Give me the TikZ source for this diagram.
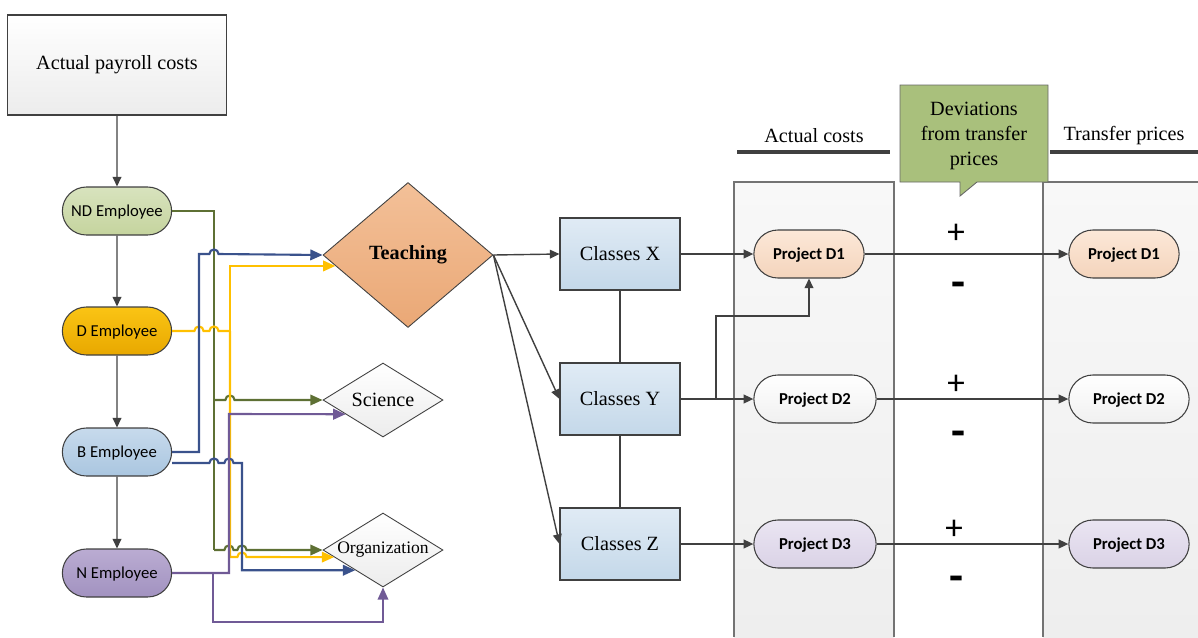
\documentclass[tikz,border=0pt]{standalone}
\usepackage{fontspec}
\setmainfont{Liberation Serif}
\newfontfamily\calibri{Carlito}
\usepackage{tikz}
\usetikzlibrary{arrows.meta, calc, shapes.geometric, shapes.misc}

\definecolor{linegray}{RGB}{64,64,64}
\definecolor{wiregreen}{RGB}{94,112,52}
\definecolor{wireblue}{RGB}{58,82,140}
\definecolor{wireyellow}{RGB}{255,192,0}
\definecolor{wirepurple}{RGB}{112,90,150}
\definecolor{calloutgreen}{RGB}{169,192,124}

\tikzset{
  serif/.style={font=\fontsize{11.5}{14.2}\selectfont},
  pill/.style={rounded rectangle, draw=linegray, line width=0.6pt, minimum height=0.96cm,
    text depth=0pt, font=\calibri\fontsize{9.5}{11}\selectfont},
  proj/.style={pill, font=\calibri\bfseries\fontsize{9.5}{11}\selectfont},
  classbox/.style={rectangle, draw=linegray, line width=0.6pt, minimum width=2.4cm,
    minimum height=1.44cm, top color={rgb,255:red,224;green,235;blue,245},
    bottom color={rgb,255:red,196;green,216;blue,233}, serif},
  choice/.style={diamond, draw=linegray, line width=0.5pt, inner sep=0pt, aspect=1.7,
    minimum width=2.4cm, minimum height=1.48cm, top color=white,
    bottom color={rgb,255:red,236;green,236;blue,236}, serif},
  arr/.style={draw=linegray, line width=0.8pt, ->},
  wire/.style={line width=1.2pt, >={Triangle[length=7pt,width=6pt]}},
  sign/.style={font=\calibri\fontsize{20}{20}\selectfont},
  minussign/.style={font=\calibri\bfseries\fontsize{26}{26}\selectfont},
}

\begin{document}
\begin{tikzpicture}[x=0.02cm, y=-0.02cm, >={Triangle[length=5.5pt,width=5pt]}]
\useasboundingbox (0,0) rectangle (1198,637);

% columns on the right
\shade[top color={rgb,255:red,248;green,248;blue,248}, bottom color={rgb,255:red,238;green,238;blue,238}]
	(734,182) rectangle (894,637);
\shade[top color={rgb,255:red,248;green,248;blue,248}, bottom color={rgb,255:red,238;green,238;blue,238}]
	(1043,182) rectangle (1198,637);
\draw[gray!90!black, line width=0.6pt] (734,637) |- (894,182) -- (894,637);
\draw[gray!90!black, line width=0.6pt] (1198,182) -| (1043,637);

\draw[linegray, line width=2.8pt] (737,152) -- (890,152);
\draw[linegray, line width=2.8pt] (1050,152) -- (1198,152);
\node[serif] (hact) at (814,136) {Actual costs};
\node[serif] (htra) at (1124,136) {Transfer prices};

% callout
\draw[fill=calloutgreen, draw=gray!80!black, line width=0.5pt]
	(900,85) -- (1048,85) -- (1048,182) -- (977,182) -- (960,196) -- (960,182) -- (900,182) -- cycle;
\node[serif, align=center] (dev) at (974,136) {Deviations\\from transfer\\prices};

% left column
\node[rectangle, draw=linegray, line width=0.6pt, minimum width=4.38cm, minimum height=2cm,
	top color=white, bottom color={rgb,255:red,236;green,236;blue,236}, serif] (pay) at (117,65) {Actual payroll costs};
\node[pill, minimum width=2.42cm, top color={rgb,255:red,216;green,227;blue,190},
	bottom color={rgb,255:red,197;green,212;blue,158}] (nd) at (117,211) {ND Employee};
\node[pill, minimum width=2.42cm, top color={rgb,255:red,250;green,196;blue,20},
	bottom color={rgb,255:red,232;green,168;blue,0}] (d) at (117,331) {D Employee};
\node[pill, minimum width=2.42cm, top color={rgb,255:red,199;green,218;blue,236},
	bottom color={rgb,255:red,170;green,198;blue,224}] (b) at (117,452) {B Employee};
\node[pill, minimum width=2.42cm, top color={rgb,255:red,186;green,172;blue,210},
	bottom color={rgb,255:red,162;green,146;blue,192}] (n) at (117,573) {N Employee};

\draw[arr] (pay) -- (nd);
\draw[arr] (nd) -- (d);
\draw[arr] (d) -- (b);
\draw[arr] (b) -- (n);

% activities
\node[diamond, draw=linegray, line width=0.5pt, inner sep=0pt, minimum width=3.4cm, minimum height=2.9cm,
	top color={rgb,255:red,243;green,192;blue,152}, bottom color={rgb,255:red,234;green,168;blue,118},
	serif, font=\bfseries\fontsize{11.5}{14}\selectfont] (teach) at (408,255) {Teaching};
\node[choice] (sci) at (383,400) {Science};
\node[choice, font=\fontsize{10}{12}\selectfont] (org) at (383,550) {Organization};

\coordinate (teachY) at ($(teach.west)!0.15!(teach.south)$);
\coordinate (sciP) at ($(sci.west)!0.38!(sci.south)$);
\coordinate (orgY) at ($(org.west)!0.19!(org.south)$);
\coordinate (orgB) at ($(org.west)!0.54!(org.south)$);
\coordinate (ysplit) at (230,331);

% wires (with line hops)
\draw[wire, wiregreen] (nd.east) -| (214,550);
\draw[wire, wiregreen, ->] (214,400) -- (225.4,400) arc[start angle=180, end angle=0, radius=2.6pt] -- (sci.west);
\draw[wire, wiregreen, ->] (214,550) -- (224.4,550) arc[start angle=180, end angle=0, radius=2.6pt]
	-- (237.4,550) arc[start angle=180, end angle=0, radius=2.6pt] -- (org.west);

\draw[wire, wireyellow] (d.east) -- (194.4,331) arc[start angle=180, end angle=0, radius=2.6pt]
	-- (209.4,331) arc[start angle=180, end angle=0, radius=2.6pt] -- (ysplit);
\draw[wire, wireyellow, ->] (ysplit) |- (teachY);
\draw[wire, wireyellow, ->] (ysplit) -- (230,557) -- (237.4,557) arc[start angle=180, end angle=0, radius=2.6pt] -- (orgY);

\draw[wire, wireblue, ->] (b.east) -| (199,254) -- (209.4,254) arc[start angle=180, end angle=0, radius=2.6pt] -- (teach.west);
\draw[wire, wireblue, ->] ($(b.east)+(0,11)$) -- (209.4,463) arc[start angle=180, end angle=0, radius=2.6pt]
	-- (224.4,463) arc[start angle=180, end angle=0, radius=2.6pt] -- (242,463) |- (orgB);

\draw[wire, wirepurple, ->] (n.east) -| (229,414) -- (sciP);
\draw[wire, wirepurple, ->] (213,573) -- (213,622) -| (org.south);

% classes
\node[classbox] (cx) at (620,254) {Classes X};
\node[classbox] (cy) at (620,399) {Classes Y};
\node[classbox] (cz) at (620,544) {Classes Z};
\draw[linegray, line width=0.8pt] (cx) -- (cy) -- (cz);

\foreach \c in {cx,cy,cz}
	\draw[arr] (teach.east) -- (\c.west);

% projects
\node[proj, minimum width=2.44cm, top color={rgb,255:red,252;green,232;blue,216},
	bottom color={rgb,255:red,244;green,212;blue,188}] (pa1) at (809,254) {Project D1};
\node[proj, minimum width=2.68cm, top color=white,
	bottom color={rgb,255:red,240;green,240;blue,240}] (pa2) at (815,399) {Project D2};
\node[proj, minimum width=2.68cm, top color={rgb,255:red,234;green,229;blue,242},
	bottom color={rgb,255:red,218;green,210;blue,230}] (pa3) at (815,544) {Project D3};
\node[proj, minimum width=2.44cm, top color={rgb,255:red,252;green,232;blue,216},
	bottom color={rgb,255:red,244;green,212;blue,188}] (pt1) at (1124,254) {Project D1};
\node[proj, minimum width=2.64cm, top color=white,
	bottom color={rgb,255:red,240;green,240;blue,240}] (pt2) at (1129,399) {Project D2};
\node[proj, minimum width=2.64cm, top color={rgb,255:red,234;green,229;blue,242},
	bottom color={rgb,255:red,218;green,210;blue,230}] (pt3) at (1129,544) {Project D3};

\draw[arr] (cx) -- (pa1);
\draw[arr] (cy) -- (pa2);
\draw[arr] (cz) -- (pa3);
\draw[arr] (cy.east) -- (716,399) -- (716,316) -| (pa1.south);

\foreach \i in {1,2,3}
	\draw[arr] (pa\i.east) -- (pt\i.west);

% deviations
\node[sign] (plus1) at (956,234) {+};
\node[minussign] (minus1) at (958,290) {-};
\node[sign] (plus2) at (956,385) {+};
\node[minussign] (minus2) at (958,439) {-};
\node[sign] (plus3) at (954,530) {+};
\node[minussign] (minus3) at (956,584) {-};
\end{tikzpicture}
\end{document}
